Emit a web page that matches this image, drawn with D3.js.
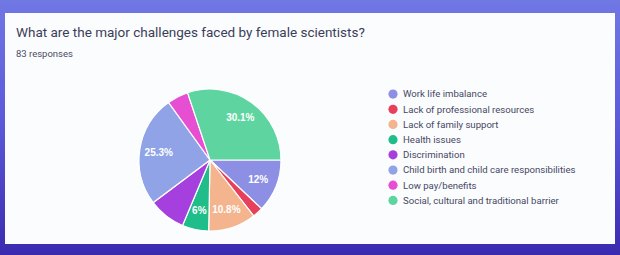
<!DOCTYPE html>
<html>
<head>
    <meta charset="UTF-8">
    <title>Major challenges faced by female scientists</title>
    <script src="https://d3js.org/d3.v7.min.js"></script>
    <style type="text/css">
        body { margin: 0; }
        svg { display: block; }
    </style>
</head>
<body>
    <svg id="chart"></svg>

    <script>
        const width = 620;
        const height = 255;

        // responses per answer, legend order (83 in total)
        const categories = [
            "Work life imbalance",
            "Lack of professional resources",
            "Lack of family support",
            "Health issues",
            "Discrimination",
            "Child birth and child care responsibilities",
            "Low pay/benefits",
            "Social, cultural and traditional barrier"
        ];
        const counts = [10, 2, 9, 5, 7, 21, 4, 25];
        const colors = ["#8c8fe3", "#e8405a", "#f4b48e", "#1fbd89", "#a540df", "#8fa3e6", "#e64fd2", "#5ed5a0"];
        // slices too thin for their label get none
        const showLabel = [true, false, true, true, false, true, false, true];

        const svg = d3.select("#chart")
            .attr("width", width)
            .attr("height", height);

        // screen background from the photo
        const defs = svg.append("defs");
        const bg = defs.append("linearGradient")
            .attr("id", "bg")
            .attr("x1", 0).attr("y1", 0).attr("x2", 0).attr("y2", 1);
        bg.append("stop").attr("offset", "0%").attr("stop-color", "#7078e4");
        bg.append("stop").attr("offset", "50%").attr("stop-color", "#5a58d8");
        bg.append("stop").attr("offset", "100%").attr("stop-color", "#3a2ab0");
        svg.append("rect")
            .attr("width", width)
            .attr("height", height)
            .attr("fill", "url(#bg)");

        // the form card
        svg.append("rect")
            .attr("x", 5)
            .attr("y", 13)
            .attr("width", 610)
            .attr("height", 231)
            .attr("fill", "#fbfcfe");

        svg.append("text")
            .attr("x", 16)
            .attr("y", 37)
            .style("font-family", "Roboto, sans-serif")
            .style("font-size", "13.5px")
            .style("fill", "#3b3e58")
            .text("What are the major challenges faced by female scientists?");

        svg.append("text")
            .attr("x", 16)
            .attr("y", 57)
            .style("font-family", "Roboto, sans-serif")
            .style("font-size", "9.5px")
            .style("fill", "#4a4d66")
            .text("83 responses");

        // pie
        const cx = 210, cy = 160, radius = 71;
        const total = d3.sum(counts);
        const startAngle = Math.PI / 2;   // first slice begins at 3 o'clock

        const pie = d3.pie()
            .sort(null)
            .value(d => d)
            .startAngle(startAngle)
            .endAngle(startAngle + 2 * Math.PI);
        const arcs = pie(counts);

        const arc = d3.arc().innerRadius(0).outerRadius(radius);
        const labelArc = d3.arc().innerRadius(radius * 0.73).outerRadius(radius * 0.73);

        const g = svg.append("g")
            .attr("transform", `translate(${cx},${cy})`);

        g.selectAll("path")
            .data(arcs)
            .join("path")
            .attr("d", arc)
            .attr("fill", (d, i) => colors[i])
            .attr("stroke", "#ffffff")
            .attr("stroke-width", 1.2);

        const fmt = v => {
            const p = Math.round(v / total * 1000) / 10;
            return (p % 1 === 0 ? p.toFixed(0) : p.toFixed(1)) + "%";
        };

        g.selectAll("text")
            .data(arcs.filter((d, i) => showLabel[i]))
            .join("text")
            .attr("transform", d => `translate(${labelArc.centroid(d)})`)
            .attr("text-anchor", "middle")
            .attr("dy", "0.35em")
            .style("font-family", "Liberation Sans, Arial, sans-serif")
            .style("font-weight", "bold")
            .style("font-size", "10px")
            .style("fill", "#ffffff")
            .text(d => fmt(d.value));

        // legend
        const legendY = d3.scaleBand()
            .domain(categories)
            .range([86.5, 208])
            .padding(0);

        const legend = svg.append("g")
            .selectAll("g")
            .data(categories)
            .join("g")
            .attr("transform", d => `translate(393,${legendY(d) + legendY.bandwidth() / 2})`);

        legend.append("circle")
            .attr("r", 4.6)
            .attr("fill", (d, i) => colors[i]);

        legend.append("text")
            .attr("x", 10)
            .attr("dy", "0.35em")
            .style("font-family", "Roboto, sans-serif")
            .style("font-size", "9.6px")
            .style("fill", "#464963")
            .text(d => d);
    </script>
</body>
</html>
